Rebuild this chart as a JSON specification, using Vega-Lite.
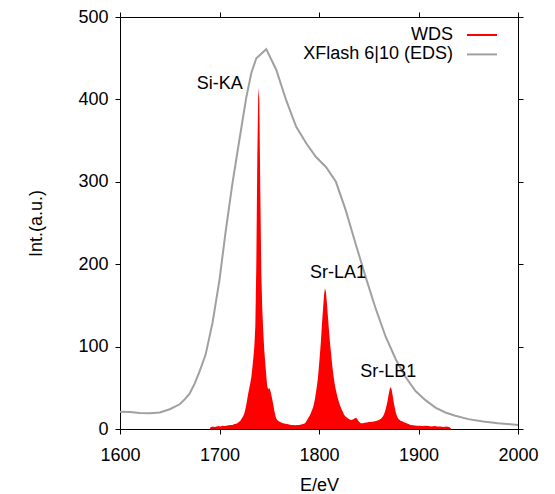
{
  "$schema": "https://vega.github.io/schema/vega-lite/v6.json",
  "width": 398,
  "height": 412,
  "autosize": {"type": "none"},
  "padding": {"left": 120, "top": 17, "right": 37, "bottom": 65},
  "background": "white",
  "datasets": {
    "wds": [
      {"E": 1690, "I": 0}, {"E": 1691, "I": 2}, {"E": 1693, "I": 3}, {"E": 1695, "I": 2.5}, {"E": 1697, "I": 3}, {"E": 1699, "I": 3.5},
      {"E": 1701, "I": 3}, {"E": 1703, "I": 4}, {"E": 1705, "I": 3.5}, {"E": 1707, "I": 4}, {"E": 1709, "I": 4.5}, {"E": 1711, "I": 5},
      {"E": 1713, "I": 5}, {"E": 1715, "I": 6}, {"E": 1717, "I": 6.5}, {"E": 1719, "I": 8}, {"E": 1720, "I": 9}, {"E": 1721, "I": 10},
      {"E": 1722, "I": 12}, {"E": 1723, "I": 14}, {"E": 1724, "I": 16}, {"E": 1725, "I": 19}, {"E": 1726, "I": 24}, {"E": 1727, "I": 30},
      {"E": 1728, "I": 37}, {"E": 1729, "I": 44}, {"E": 1730, "I": 50}, {"E": 1731, "I": 56}, {"E": 1732, "I": 63}, {"E": 1733, "I": 74},
      {"E": 1734, "I": 86}, {"E": 1735, "I": 100}, {"E": 1736, "I": 125}, {"E": 1737, "I": 200}, {"E": 1738, "I": 330}, {"E": 1739, "I": 414},
      {"E": 1740, "I": 400}, {"E": 1741, "I": 290}, {"E": 1742, "I": 190}, {"E": 1743, "I": 145}, {"E": 1744, "I": 118}, {"E": 1745, "I": 96},
      {"E": 1746, "I": 80}, {"E": 1747, "I": 65}, {"E": 1748, "I": 52}, {"E": 1749, "I": 48}, {"E": 1750, "I": 50}, {"E": 1751, "I": 47},
      {"E": 1752, "I": 42}, {"E": 1753, "I": 36}, {"E": 1754, "I": 30}, {"E": 1755, "I": 23}, {"E": 1756, "I": 17}, {"E": 1757, "I": 13},
      {"E": 1758, "I": 11}, {"E": 1759, "I": 10}, {"E": 1760, "I": 9}, {"E": 1762, "I": 8}, {"E": 1764, "I": 7}, {"E": 1766, "I": 6.5},
      {"E": 1768, "I": 6}, {"E": 1770, "I": 5.5}, {"E": 1772, "I": 5}, {"E": 1774, "I": 5}, {"E": 1776, "I": 4.5}, {"E": 1778, "I": 5},
      {"E": 1780, "I": 5}, {"E": 1782, "I": 5.5}, {"E": 1784, "I": 6}, {"E": 1786, "I": 7}, {"E": 1788, "I": 11}, {"E": 1789, "I": 13},
      {"E": 1790, "I": 15}, {"E": 1791, "I": 17}, {"E": 1792, "I": 20}, {"E": 1793, "I": 23}, {"E": 1794, "I": 26}, {"E": 1795, "I": 31},
      {"E": 1796, "I": 37}, {"E": 1797, "I": 45}, {"E": 1798, "I": 53}, {"E": 1799, "I": 63}, {"E": 1800, "I": 77}, {"E": 1801, "I": 92},
      {"E": 1802, "I": 108}, {"E": 1803, "I": 128}, {"E": 1804, "I": 145}, {"E": 1805, "I": 162}, {"E": 1806, "I": 171}, {"E": 1807, "I": 166},
      {"E": 1808, "I": 152}, {"E": 1809, "I": 136}, {"E": 1810, "I": 120}, {"E": 1811, "I": 106}, {"E": 1812, "I": 93}, {"E": 1813, "I": 81},
      {"E": 1814, "I": 70}, {"E": 1815, "I": 61}, {"E": 1816, "I": 53}, {"E": 1817, "I": 47}, {"E": 1818, "I": 42}, {"E": 1819, "I": 37},
      {"E": 1820, "I": 33}, {"E": 1821, "I": 29}, {"E": 1822, "I": 26}, {"E": 1823, "I": 23}, {"E": 1824, "I": 21}, {"E": 1825, "I": 18},
      {"E": 1826, "I": 16}, {"E": 1827, "I": 15}, {"E": 1828, "I": 14}, {"E": 1829, "I": 13}, {"E": 1830, "I": 12}, {"E": 1832, "I": 11},
      {"E": 1834, "I": 11.5}, {"E": 1836, "I": 13}, {"E": 1837, "I": 13.5}, {"E": 1838, "I": 13}, {"E": 1839, "I": 11}, {"E": 1840, "I": 9},
      {"E": 1842, "I": 7}, {"E": 1844, "I": 7}, {"E": 1846, "I": 7.5}, {"E": 1848, "I": 8}, {"E": 1850, "I": 8.5}, {"E": 1852, "I": 8.5},
      {"E": 1855, "I": 9}, {"E": 1858, "I": 10}, {"E": 1860, "I": 11}, {"E": 1862, "I": 12}, {"E": 1864, "I": 15}, {"E": 1865, "I": 17},
      {"E": 1866, "I": 20}, {"E": 1867, "I": 24}, {"E": 1868, "I": 29}, {"E": 1869, "I": 35}, {"E": 1870, "I": 42}, {"E": 1871, "I": 48},
      {"E": 1872, "I": 51}, {"E": 1873, "I": 48}, {"E": 1874, "I": 41}, {"E": 1875, "I": 33}, {"E": 1876, "I": 27}, {"E": 1877, "I": 21},
      {"E": 1878, "I": 17}, {"E": 1879, "I": 14}, {"E": 1880, "I": 12}, {"E": 1882, "I": 10}, {"E": 1884, "I": 9}, {"E": 1886, "I": 8},
      {"E": 1888, "I": 7}, {"E": 1890, "I": 6}, {"E": 1892, "I": 5}, {"E": 1895, "I": 4.5}, {"E": 1898, "I": 4}, {"E": 1901, "I": 4},
      {"E": 1904, "I": 3.5}, {"E": 1907, "I": 4}, {"E": 1910, "I": 3.5}, {"E": 1913, "I": 3}, {"E": 1916, "I": 3.5}, {"E": 1919, "I": 3},
      {"E": 1922, "I": 3}, {"E": 1925, "I": 2.5}, {"E": 1928, "I": 3}, {"E": 1931, "I": 2.5}, {"E": 1933, "I": 0}
    ],
    "eds": [
      {"E": 1600, "I": 21}, {"E": 1610, "I": 20.5}, {"E": 1620, "I": 19.5}, {"E": 1630, "I": 19}, {"E": 1640, "I": 20},
      {"E": 1650, "I": 24}, {"E": 1660, "I": 30}, {"E": 1665, "I": 36}, {"E": 1670, "I": 43}, {"E": 1675, "I": 55},
      {"E": 1680, "I": 70}, {"E": 1686, "I": 90}, {"E": 1693, "I": 129}, {"E": 1700, "I": 181}, {"E": 1706, "I": 238},
      {"E": 1713, "I": 298}, {"E": 1720, "I": 351}, {"E": 1727, "I": 403}, {"E": 1732, "I": 432}, {"E": 1737, "I": 450},
      {"E": 1747, "I": 461}, {"E": 1757, "I": 436}, {"E": 1767, "I": 399}, {"E": 1777, "I": 367}, {"E": 1787, "I": 347},
      {"E": 1797, "I": 330}, {"E": 1807, "I": 318}, {"E": 1817, "I": 300}, {"E": 1827, "I": 265}, {"E": 1837, "I": 224},
      {"E": 1847, "I": 184}, {"E": 1857, "I": 146}, {"E": 1867, "I": 112}, {"E": 1877, "I": 85}, {"E": 1887, "I": 63},
      {"E": 1897, "I": 46}, {"E": 1907, "I": 35}, {"E": 1917, "I": 26}, {"E": 1927, "I": 20}, {"E": 1937, "I": 16},
      {"E": 1950, "I": 12}, {"E": 1965, "I": 9}, {"E": 1980, "I": 7}, {"E": 2000, "I": 5}
    ],
    "labels": [
      {"E": 1700.3, "I": 419, "text": "Si-KA"},
      {"E": 1819, "I": 189, "text": "Sr-LA1"},
      {"E": 1869.7, "I": 69, "text": "Sr-LB1"}
    ]
  },
  "layer": [
    {
      "data": {"name": "wds"},
      "transform": [{"calculate": "'WDS'", "as": "series"}],
      "mark": {"type": "area", "interpolate": "linear", "opacity": 1},
      "encoding": {
        "x": {"field": "E", "type": "quantitative", "scale": {"domain": [1600, 2000], "nice": false},
          "axis": {"orient": "bottom", "title": "E/eV", "values": [1600, 1700, 1800, 1900, 2000], "format": "d", "labelFlush": false, "labelPadding": 12, "titlePadding": 12}},
        "y": {"field": "I", "type": "quantitative", "scale": {"domain": [0, 500], "nice": false},
          "axis": {"orient": "left", "title": "Int.(a.u.)", "values": [0, 100, 200, 300, 400, 500], "format": "d", "labelFlush": false, "labelPadding": 7, "titlePadding": 32}},
        "color": {"field": "series", "type": "nominal",
          "scale": {"domain": ["WDS", "XFlash 6|10 (EDS)"], "range": ["#ff0000", "#a0a0a0"]},
          "legend": {
            "orient": "none", "legendX": 353, "legendY": 9, "title": null,
            "symbolType": "M-5,0H5", "symbolSize": 36, "symbolStrokeWidth": 2,
            "labelAlign": "right", "labelOffset": -38, "labelFontSize": 18, "labelFont": "Liberation Sans", "labelColor": "#000",
            "rowPadding": 1.4, "padding": 0,
            "encode": {"symbols": {"update": {"stroke": {"scale": "color", "field": "value"}, "fill": {"value": "transparent"}, "strokeWidth": {"value": 2}}}}
          }}
      }
    },
    {
      "data": {"name": "eds"},
      "transform": [{"calculate": "'XFlash 6|10 (EDS)'", "as": "series"}],
      "mark": {"type": "line", "strokeWidth": 2},
      "encoding": {
        "x": {"field": "E", "type": "quantitative", "axis": null},
        "y": {"field": "I", "type": "quantitative", "axis": null},
        "color": {"field": "series", "type": "nominal"}
      }
    },
    {
      "data": {"name": "labels"},
      "mark": {"type": "text", "fontSize": 18, "font": "Liberation Sans", "color": "#000", "align": "center", "baseline": "middle"},
      "encoding": {
        "x": {"field": "E", "type": "quantitative",
          "axis": {"orient": "top", "labels": false, "title": null, "values": [1600, 1700, 1800, 1900, 2000]}},
        "y": {"field": "I", "type": "quantitative",
          "axis": {"orient": "right", "labels": false, "title": null, "values": [0, 100, 200, 300, 400, 500]}},
        "text": {"field": "text"}
      }
    }
  ],
  "config": {
    "font": "Liberation Sans",
    "view": {"stroke": null},
    "axis": {
      "domainColor": "#000", "tickColor": "#000", "labelColor": "#000", "titleColor": "#000",
      "labelFontSize": 18, "titleFontSize": 18, "titleFontWeight": "normal",
      "labelFont": "Liberation Sans", "titleFont": "Liberation Sans",
      "tickSize": 5, "grid": false, "domainWidth": 1, "tickWidth": 1
    }
  }
}
